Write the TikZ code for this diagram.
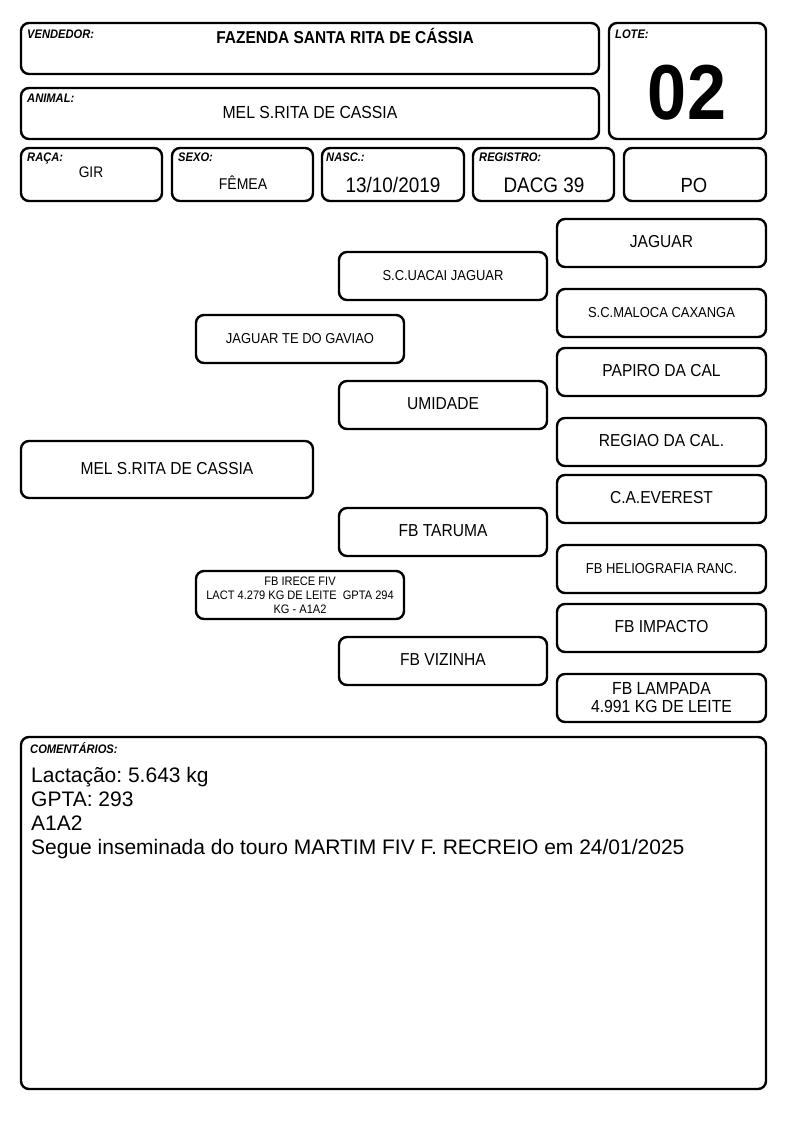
\documentclass[tikz,border=0pt]{standalone}
\usepackage{fontspec}
\setmainfont{Liberation Sans}
\newfontfamily\nf[FakeStretch=0.9]{Liberation Sans}
\newcommand\fsz[1]{\fontsize{#1}{1.15\dimexpr #1pt\relax}\selectfont}
\frenchspacing
\begin{document}
\begin{tikzpicture}[x=1pt,y=-1pt,
  box/.style={draw, line width=2.4pt, rounded corners=8pt, inner sep=0pt, align=center},
  lbl/.style={anchor=base west, inner sep=0pt, font=\nf\bfseries\itshape\fsz{12.4}},
  val/.style={anchor=base, inner sep=0pt},
  big/.style={font=\nf\fsz{17.3}, text height=0.98em, text depth=0pt},
  sml/.style={font=\nf\fsz{14.4}, text height=0.98em, text depth=0pt},
  cmt/.style={anchor=base west, inner sep=0pt, font=\fsz{21}}]
\useasboundingbox (0,0) rectangle (794,1123);
\newcommand\bx[6]{\node[box,#6,minimum width={(#4-#2)*1pt},minimum height={(#5-#3)*1pt}] (#1) at ({(#2+#4)/2},{(#3+#5)/2}) }
% header
\bx{vend}{21}{23}{599}{74}{}{};
\node[lbl] (vendl) at (27,39) {VENDEDOR:};
\node[val, font=\nf\bfseries\fsz{17.2}] (vendv) at (345,44) {FAZENDA SANTA RITA DE CÁSSIA};
\bx{lote}{609}{23}{766}{139}{}{};
\node[lbl] (lotel) at (615,39) {LOTE:};
\node[val, font=\nf\bfseries\fsz{78}] (lotev) at (687,120) {02};
\bx{anim}{21}{88}{599}{139}{}{};
\node[lbl] (animl) at (27,103) {ANIMAL:};
\node[val, font=\nf\fsz{17.5}] (animv) at (310,119) {MEL S.RITA DE CASSIA};
\bx{raca}{21}{148}{162}{201}{}{};
\node[lbl] (racal) at (27,162) {RAÇA:};
\node[val, font=\nf\fsz{15.3}] (racav) at (91,178) {GIR};
\bx{sexo}{172}{148}{313}{201}{}{};
\node[lbl] (sexol) at (178,162) {SEXO:};
\node[val, font=\nf\fsz{15.6}] (sexov) at (243,190) {FÊMEA};
\bx{nasc}{322}{148}{464}{201}{}{};
\node[lbl] (nascl) at (326,162) {NASC.:};
\node[val, font=\nf\fsz{21}] (nascv) at (393,193) {13/10/2019};
\bx{regi}{473}{148}{614}{201}{}{};
\node[lbl] (regil) at (479,162) {REGISTRO:};
\node[val, font=\nf\fsz{21}] (regiv) at (544,193) {DACG 39};
\bx{po}{624}{148}{766}{201}{}{};
\node[val, font=\nf\fsz{20.5}] (pov) at (694,193) {PO};
% pedigree
\bx{jaguar}{557}{219}{766}{267}{big}{JAGUAR};
\bx{uacai}{339}{252}{547}{300}{sml}{S.C.UACAI JAGUAR};
\bx{maloca}{557}{289}{766}{337}{sml}{S.C.MALOCA CAXANGA};
\bx{gaviao}{196}{315}{404}{363}{sml}{JAGUAR TE DO GAVIAO};
\bx{papiro}{557}{348}{766}{396}{big}{PAPIRO DA CAL};
\bx{umidade}{339}{381}{547}{429}{big}{UMIDADE};
\bx{regiao}{557}{418}{766}{466}{big}{REGIAO DA CAL.};
\bx{mel}{21}{441}{313}{498}{big}{MEL S.RITA DE CASSIA};
\bx{everest}{557}{475}{766}{523}{big}{C.A.EVEREST};
\bx{taruma}{339}{508}{547}{556}{big}{FB TARUMA};
\bx{helio}{557}{545}{766}{593}{sml}{FB HELIOGRAFIA RANC.};
\bx{irece}{196}{571}{404}{619}{font=\nf\fontsize{12.3}{14}\selectfont}{FB IRECE FIV\\LACT 4.279 KG DE LEITE~ GPTA 294\\KG - A1A2};
\bx{impacto}{557}{604}{766}{652}{big}{FB IMPACTO};
\bx{vizinha}{339}{637}{547}{685}{big}{FB VIZINHA};
\bx{lampada}{557}{674}{766}{722}{font=\nf\fontsize{17.5}{18}\selectfont}{FB LAMPADA\\4.991 KG DE LEITE};
% comments
\bx{coment}{21}{737}{766}{1089}{}{};
\node[lbl] (comentl) at (30,753) {COMENTÁRIOS:};
\node[cmt] (c1) at (31,782) {Lactação: 5.643 kg};
\node[cmt] (c2) at (31,806) {GPTA: 293};
\node[cmt] (c3) at (31,830) {A1A2};
\node[cmt] (c4) at (31,854) {Segue inseminada do touro MARTIM FIV F. RECREIO em 24/01/2025};
\end{tikzpicture}
\end{document}
